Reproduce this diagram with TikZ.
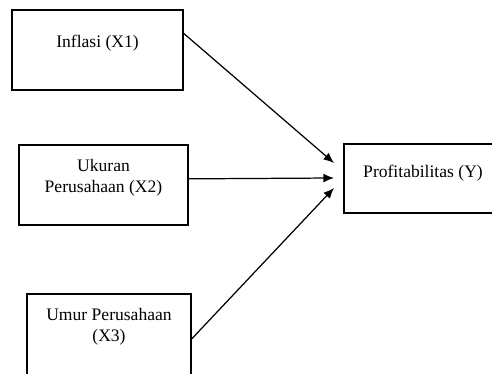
\documentclass[tikz,border=0pt]{standalone}
\usepackage{fontspec}
\setmainfont{Liberation Serif}
\usetikzlibrary{arrows.meta,positioning}

\begin{document}
\begin{tikzpicture}[x=0.02cm, y=-0.02cm, line width=0.7pt]
		
		\tikzstyle{var}=[rectangle, draw, fill=white, text=black, align=center, font=\fontsize{10}{12}\selectfont, text depth=10pt, minimum height=1.6cm]
		\tikzstyle{dep}=[var, minimum height=1.38cm, text depth=8pt]
		\tikzstyle{link}=[-{Latex[length=6pt, width=5pt]}, black]
		
		\useasboundingbox (0,0) rectangle (492,374);
		\clip (0,0) rectangle (492,374);
		
		\node[var, minimum width=3.42cm] (x1) at (97.5,50)  {Inflasi (X1)};
		\node[var, minimum width=3.38cm] (x2) at (103.5,185) {Ukuran\\Perusahaan (X2)};
		\node[var, minimum width=3.28cm, minimum height=1.8cm, text depth=15.7pt] (x3) at (109,339)  {Umur Perusahaan\\(X3)};
		
		\node[dep, minimum width=3.16cm] (y) at (423,178.5) {Profitabilitas (Y)};
		
		% arrow tips in front of Y
		\coordinate (t1) at (334,163);
		\coordinate (t2) at (334,178);
		\coordinate (t3) at (334,188);
		
		\draw[link] ([yshift=9.5pt]x1.east) -- (t1);
		\draw[link] ([yshift=3.5pt]x2.east) -- (t2);
		\draw[link] (x3.east) -- (t3);
		
\end{tikzpicture}
\end{document}
